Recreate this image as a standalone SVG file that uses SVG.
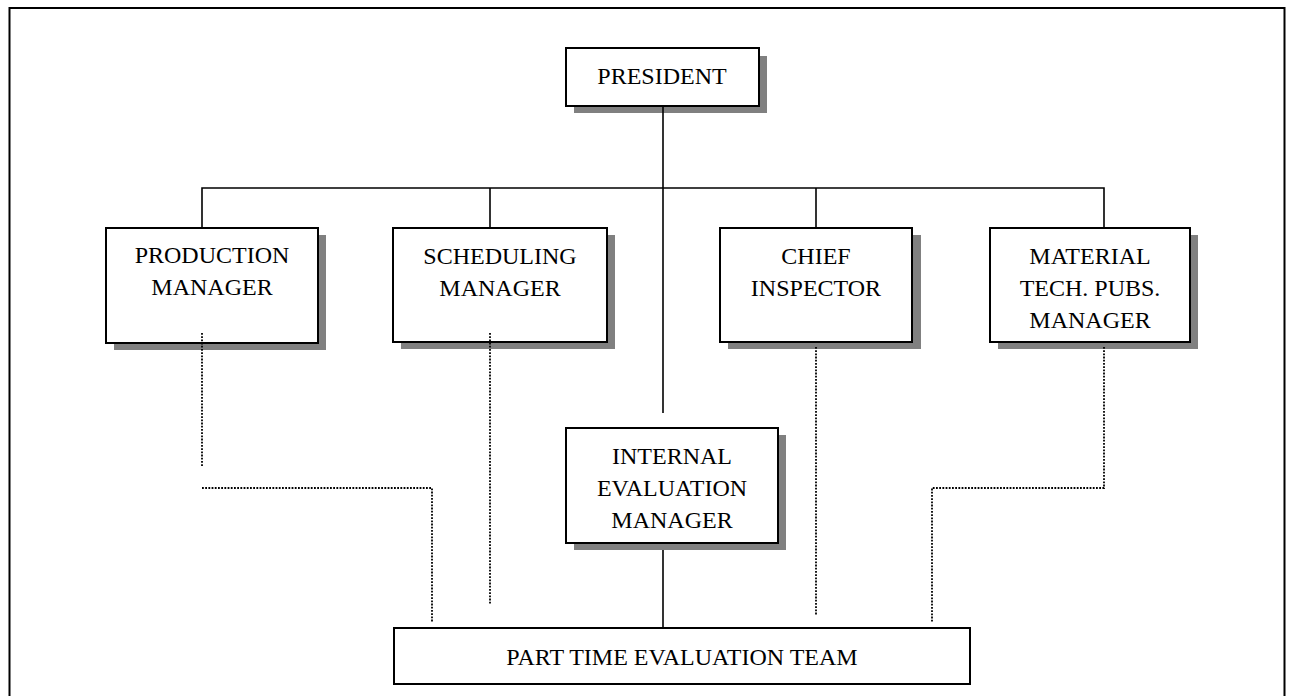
<svg xmlns="http://www.w3.org/2000/svg" width="1295" height="696" viewBox="0 0 1295 696">
<style>
.box{fill:#fff;stroke:#000;stroke-width:2}
.sh{fill:#808080}
.t{font-family:"Liberation Serif","Times New Roman",serif;font-size:24px;fill:#000;text-anchor:middle}
.ln{stroke:#000;stroke-width:1.6;fill:none}
.dt{stroke:#000;stroke-width:1.8;fill:none;stroke-dasharray:1.8 1.4}
</style>
<rect width="1295" height="696" fill="#fff"/>
<path d="M9.5 700 V8 H1284.5 V700" fill="none" stroke="#000" stroke-width="2"/>
<g id="president">
<rect class="sh" x="574" y="56" width="193" height="57"/>
<rect class="box" x="566" y="48" width="193" height="58"/>
<text class="t" x="662" y="84">PRESIDENT</text>
</g>
<g id="production">
<rect class="sh" x="114" y="235" width="212" height="115"/>
<rect class="box" x="106" y="228" width="212" height="115"/>
<text class="t" x="212" y="263">PRODUCTION</text>
<text class="t" x="212" y="295">MANAGER</text>
</g>
<g id="scheduling">
<rect class="sh" x="401" y="235" width="214" height="114"/>
<rect class="box" x="393" y="228" width="214" height="114"/>
<text class="t" x="500" y="264">SCHEDULING</text>
<text class="t" x="500" y="296">MANAGER</text>
</g>
<g id="chief">
<rect class="sh" x="728" y="235" width="193" height="114"/>
<rect class="box" x="720" y="228" width="192" height="114"/>
<text class="t" x="816" y="264">CHIEF</text>
<text class="t" x="816" y="296">INSPECTOR</text>
</g>
<g id="material">
<rect class="sh" x="998" y="235" width="200" height="114"/>
<rect class="box" x="990" y="228" width="200" height="114"/>
<text class="t" x="1090" y="264">MATERIAL</text>
<text class="t" x="1090" y="296">TECH. PUBS.</text>
<text class="t" x="1090" y="328">MANAGER</text>
</g>
<g id="internal">
<rect class="sh" x="574" y="435" width="212" height="115"/>
<rect class="box" x="566" y="428" width="212" height="115"/>
<text class="t" x="672" y="464">INTERNAL</text>
<text class="t" x="672" y="496">EVALUATION</text>
<text class="t" x="672" y="528">MANAGER</text>
</g>
<g id="parttime">
<rect class="box" x="394" y="628" width="576" height="56"/>
<text class="t" x="682" y="665">PART TIME EVALUATION TEAM</text>
</g>
<g id="connectors">
<path class="ln" d="M663 107 V413"/>
<path class="ln" d="M202 227 V188 H1104 V227"/>
<path class="ln" d="M490 188 V227"/>
<path class="ln" d="M816 188 V227"/>
<path class="ln" d="M663 550 V627"/>
<path class="dt" d="M202 333 V467"/>
<path class="dt" d="M202 488 H432 V622"/>
<path class="dt" d="M490 333 V604"/>
<path class="dt" d="M816 347 V615"/>
<path class="dt" d="M1104 347 V488 H932 V622"/>
</g>
</svg>
